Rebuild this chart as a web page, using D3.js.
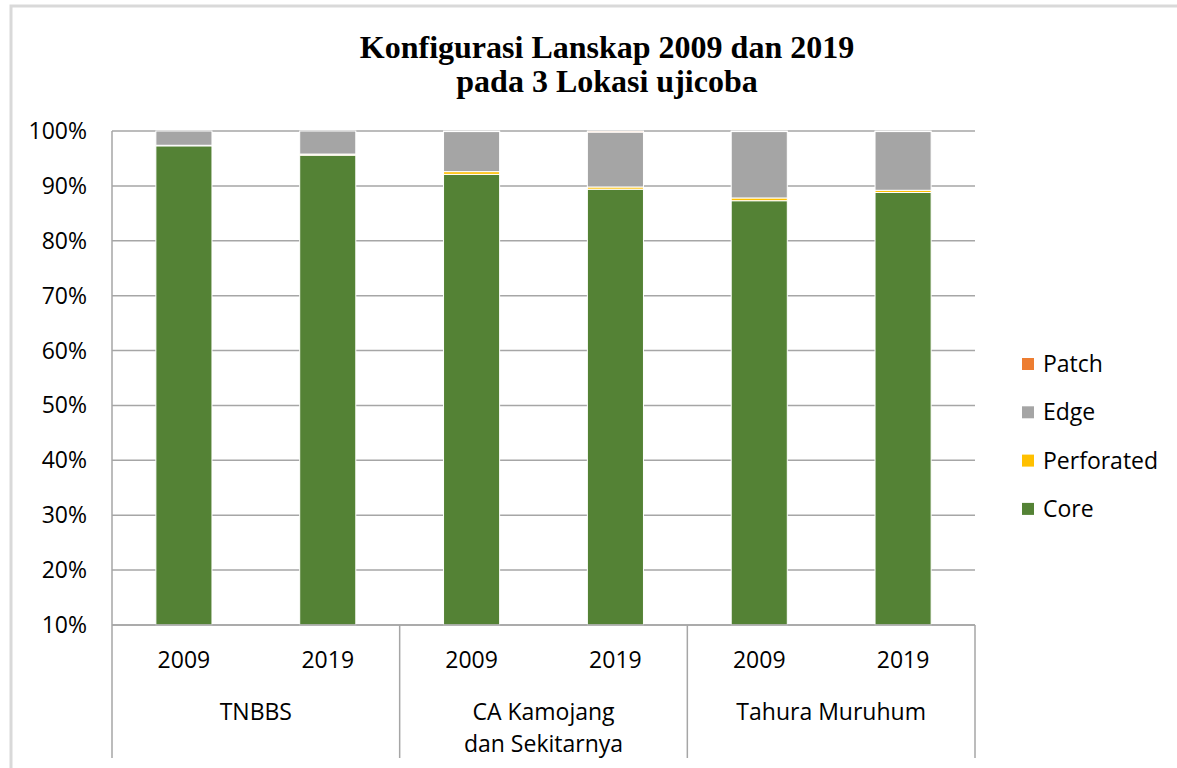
<!DOCTYPE html>
<html>
<head>
<meta charset="utf-8">
<script src="https://cdn.jsdelivr.net/npm/d3@7"></script>
<style>
  body { margin: 0; background: #fff; }
  text { font-family: "Open Sans", "Noto Sans", sans-serif; fill: #000; }
</style>
</head>
<body>
<div id="chart"></div>
<script>
// categories: location + year
const groups = ["TNBBS", "CA Kamojang\ndan Sekitarnya", "Tahura Muruhum"];
const years = ["2009", "2019"];
const series = ["Core", "Perforated", "Edge", "Patch"];
const colors = ["#548235", "#ffc000", "#a5a5a5", "#ed7d31"];

// percent values per bar (TNBBS 09, 19, CA 09, 19, Tahura 09, 19)
const core       = [97.3, 95.6, 92.1, 89.4, 87.3, 88.8];
const perforated = [0.1, 0.2, 0.5, 0.4, 0.5, 0.4];
const edge       = [2.6, 4.2, 7.3, 10.0, 12.1, 10.7];
const patch      = [0.0, 0.0, 0.1, 0.2, 0.1, 0.1];
const yTicks = [10, 20, 30, 40, 50, 60, 70, 80, 90, 100];

const W = 1177, H = 768;
const plot = {left: 112, right: 975, top: 131, bottom: 625};
const fs = "23px";

let svg = d3.select("#chart").append("svg")
    .attr("width", W)
    .attr("height", H);

// outer chart border (light gray, partially visible)
svg.append("rect")
    .attr("x", 11).attr("y", 6)
    .attr("width", W + 20).attr("height", H + 20)
    .attr("fill", "none")
    .attr("stroke", "#d9d9d9")
    .attr("stroke-width", 3);

// build rows
let cats = [];
groups.forEach((g, gi) => years.forEach(yr => cats.push(gi + "_" + yr)));
let rows = cats.map((c, i) => ({
    cat: c, Core: core[i], Perforated: perforated[i], Edge: edge[i], Patch: patch[i]
}));

let x = d3.scaleBand()
    .domain(cats)
    .range([plot.left, plot.right])
    .paddingInner(0.61)
    .paddingOuter(0.305);

let y = d3.scaleLinear()
    .domain([10, 100])
    .range([plot.bottom, plot.top]);

// gridlines
svg.append("g").selectAll("line")
    .data(yTicks)
    .enter().append("line")
    .attr("x1", plot.left).attr("x2", plot.right)
    .attr("y1", d => y(d)).attr("y2", d => y(d))
    .attr("stroke", "#a6a6a6")
    .attr("stroke-width", 1.5);

// y tick labels
svg.append("g").selectAll("text")
    .data(yTicks)
    .enter().append("text")
    .attr("x", 87)
    .attr("y", d => y(d))
    .attr("dy", "0.35em")
    .style("text-anchor", "end")
    .style("font-size", fs)
    .text(d => d + "%");

// stacked bars
let stack = d3.stack().keys(series)(rows);
let color = d3.scaleOrdinal().domain(series).range(colors);

svg.append("g").selectAll("g")
    .data(stack)
    .enter().append("g")
    .attr("fill", d => color(d.key))
    .selectAll("rect")
    .data(d => d)
    .enter().append("rect")
    .attr("x", d => x(d.data.cat))
    .attr("width", x.bandwidth())
    .attr("y", d => y(d[1]))
    .attr("height", d => Math.max(0, y(Math.max(10, d[0])) - y(d[1])))
    .attr("stroke", "#fff")
    .attr("stroke-width", 1);

// category axis lines
svg.append("line")
    .attr("x1", plot.left).attr("x2", plot.right)
    .attr("y1", plot.bottom).attr("y2", plot.bottom)
    .attr("stroke", "#a6a6a6").attr("stroke-width", 1.5);

let step = x.step();
let bounds = d3.range(groups.length + 1).map(i => plot.left + i * 2 * step);
svg.append("g").selectAll("line")
    .data(bounds)
    .enter().append("line")
    .attr("x1", d => d).attr("x2", d => d)
    .attr("y1", (d, i) => (i == 0 ? plot.top : plot.bottom))
    .attr("y2", 758)
    .attr("stroke", "#a6a6a6").attr("stroke-width", 1.5);

// year labels
svg.append("g").selectAll("text")
    .data(cats)
    .enter().append("text")
    .attr("x", d => x(d) + x.bandwidth() / 2)
    .attr("y", 660)
    .attr("dy", "0.35em")
    .style("text-anchor", "middle")
    .style("font-size", fs)
    .text(d => d.split("_")[1]);

// group labels
let gl = svg.append("g").selectAll("text")
    .data(groups)
    .enter().append("text")
    .attr("x", (d, i) => (bounds[i] + bounds[i + 1]) / 2)
    .attr("y", 712)
    .style("text-anchor", "middle")
    .style("font-size", fs);
gl.selectAll("tspan")
    .data(d => d.split("\n"))
    .enter().append("tspan")
    .attr("x", function() { return d3.select(this.parentNode).attr("x"); })
    .attr("dy", (d, i) => (i == 0 ? "0.35em" : "1.4em"))
    .text(d => d);

// title
let title = ["Konfigurasi Lanskap 2009 dan 2019", "pada 3 Lokasi ujicoba"];
svg.append("g").selectAll("text")
    .data(title)
    .enter().append("text")
    .attr("x", 607)
    .attr("y", (d, i) => 58 + i * 34)
    .style("text-anchor", "middle")
    .style("font-family", "'Liberation Serif', serif")
    .style("font-weight", "bold")
    .style("font-size", "32px")
    .text(d => d);

// legend (reverse order: Patch on top)
let legendItems = series.slice().reverse();
let leg = svg.append("g").selectAll("g")
    .data(legendItems)
    .enter().append("g")
    .attr("transform", (d, i) => `translate(1022,${364 + i * 48.3})`);
leg.append("rect")
    .attr("x", 0).attr("y", -6)
    .attr("width", 12).attr("height", 12)
    .attr("fill", d => color(d));
leg.append("text")
    .attr("x", 21)
    .attr("dy", "0.35em")
    .style("font-size", fs)
    .text(d => d);
</script>
</body>
</html>
